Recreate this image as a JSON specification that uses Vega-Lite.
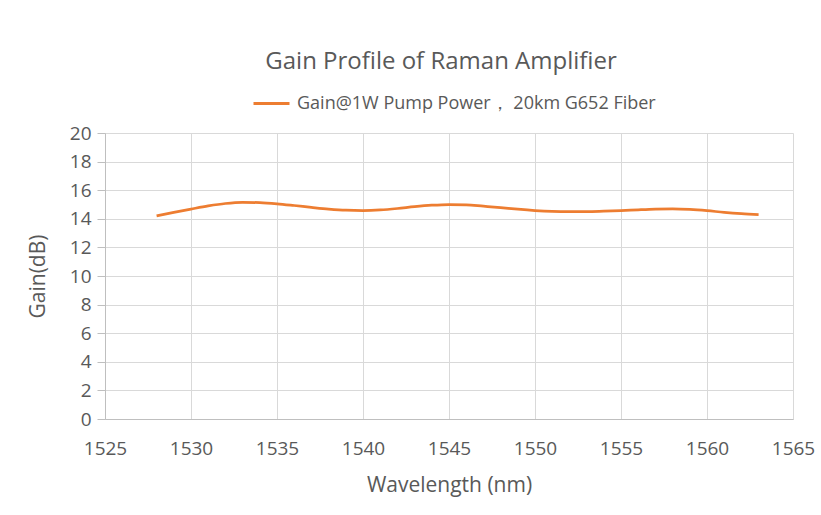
{
  "$schema": "https://vega.github.io/schema/vega-lite/v6.json",
  "width": 688,
  "height": 286,
  "autosize": {"type": "none"},
  "padding": {"left": 105, "top": 133, "right": 28, "bottom": 96},
  "background": "white",
  "config": {"font": "Open Sans", "view": {"stroke": null}},
  "title": {
    "text": "Gain Profile of Raman Amplifier",
    "font": "Open Sans",
    "fontSize": 24,
    "fontWeight": "normal",
    "color": "#595959",
    "anchor": "middle",
    "frame": "group",
    "dx": -8,
    "offset": 10
  },
  "data": {
    "values": [
      {"wavelength": 1528, "gain": 14.2},
      {"wavelength": 1529, "gain": 14.45},
      {"wavelength": 1530, "gain": 14.68},
      {"wavelength": 1531, "gain": 14.9},
      {"wavelength": 1532, "gain": 15.07},
      {"wavelength": 1533, "gain": 15.15},
      {"wavelength": 1534, "gain": 15.13},
      {"wavelength": 1535, "gain": 15.05},
      {"wavelength": 1536, "gain": 14.93},
      {"wavelength": 1537, "gain": 14.8},
      {"wavelength": 1538, "gain": 14.68},
      {"wavelength": 1539, "gain": 14.6},
      {"wavelength": 1540, "gain": 14.58},
      {"wavelength": 1541, "gain": 14.62},
      {"wavelength": 1542, "gain": 14.72},
      {"wavelength": 1543, "gain": 14.85},
      {"wavelength": 1544, "gain": 14.95},
      {"wavelength": 1545, "gain": 15.0},
      {"wavelength": 1546, "gain": 14.98},
      {"wavelength": 1547, "gain": 14.88},
      {"wavelength": 1548, "gain": 14.78},
      {"wavelength": 1549, "gain": 14.67},
      {"wavelength": 1550, "gain": 14.58},
      {"wavelength": 1551, "gain": 14.52},
      {"wavelength": 1552, "gain": 14.5},
      {"wavelength": 1553, "gain": 14.5},
      {"wavelength": 1554, "gain": 14.53},
      {"wavelength": 1555, "gain": 14.57},
      {"wavelength": 1556, "gain": 14.63},
      {"wavelength": 1557, "gain": 14.68},
      {"wavelength": 1558, "gain": 14.7},
      {"wavelength": 1559, "gain": 14.66},
      {"wavelength": 1560, "gain": 14.57},
      {"wavelength": 1561, "gain": 14.45},
      {"wavelength": 1562, "gain": 14.36},
      {"wavelength": 1563, "gain": 14.3}
    ]
  },
  "mark": {"type": "line", "interpolate": "monotone", "strokeWidth": 2.75},
  "encoding": {
    "x": {
      "field": "wavelength",
      "type": "quantitative",
      "scale": {"domain": [1525, 1565], "nice": false, "zero": false},
      "axis": {
        "title": "Wavelength (nm)",
        "values": [1525, 1530, 1535, 1540, 1545, 1550, 1555, 1560, 1565],
        "format": "d",
        "grid": true,
        "gridColor": "#d9d9d9",
        "domainColor": "#bfbfbf",
        "ticks": false,
        "labelFlush": false,
        "labelFontSize": 19,
        "labelColor": "#595959",
        "labelPadding": 20,
        "titleFontSize": 21,
        "titleFontWeight": "normal",
        "titleColor": "#595959",
        "titlePadding": 16
      }
    },
    "y": {
      "field": "gain",
      "type": "quantitative",
      "scale": {"domain": [0, 20], "nice": false},
      "axis": {
        "title": "Gain(dB)",
        "values": [0, 2, 4, 6, 8, 10, 12, 14, 16, 18, 20],
        "grid": true,
        "gridColor": "#d9d9d9",
        "domainColor": "#bfbfbf",
        "tickColor": "#bfbfbf",
        "tickSize": 8,
        "labelFlush": false,
        "labelFontSize": 19,
        "labelColor": "#595959",
        "labelPadding": 6,
        "titleFontSize": 21,
        "titleFontWeight": "normal",
        "titleColor": "#595959",
        "titlePadding": 21
      }
    },
    "color": {
      "datum": "Gain@1W Pump Power， 20km G652 Fiber",
      "scale": {"range": ["#ED7D31"]},
      "legend": {
        "title": null,
        "orient": "none",
        "legendX": 147,
        "legendY": -49,
        "symbolType": "stroke",
        "symbolSize": 1296,
        "symbolStrokeWidth": 3,
        "labelFontSize": 18,
        "labelLimit": 0,
        "labelColor": "#595959",
        "labelOffset": 6
      }
    }
  }
}
